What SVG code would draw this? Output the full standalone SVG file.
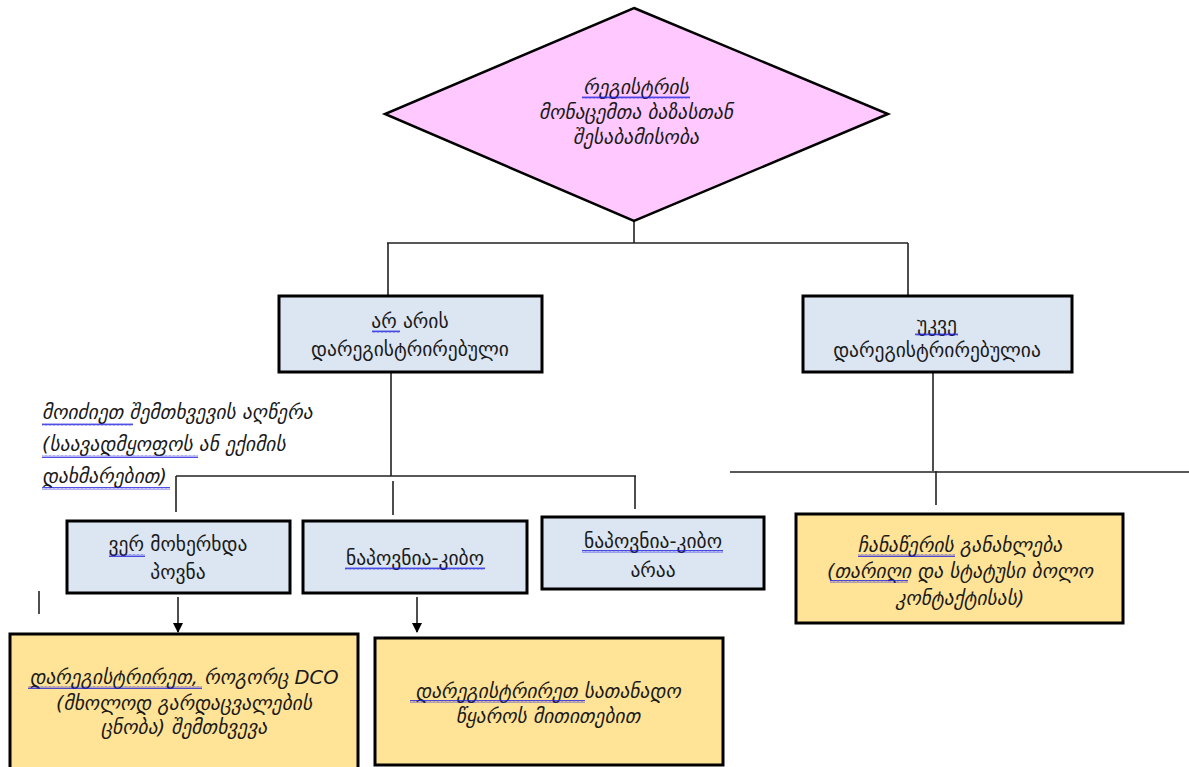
<svg xmlns="http://www.w3.org/2000/svg" width="1189" height="767" viewBox="0 0 1189 767">
<defs>
<style>
.t{font-family:"DejaVu Sans",sans-serif;font-size:19.5px;fill:#1a1a1a;text-anchor:middle}
.i{font-style:italic}
.a{text-anchor:start}
.pink{fill:#ffc8ff;stroke:#000;stroke-width:2.5}
.blue{fill:#dce6f2;stroke:#000;stroke-width:3}
.yel{fill:#ffe396;stroke:#000;stroke-width:3}
.c{fill:none;stroke:#222;stroke-width:1.6}
.w{fill:url(#wavy)}
</style>
<pattern id="wavy" x="0" y="0" width="4" height="3" patternUnits="userSpaceOnUse">
<path d="M0 2.5 L1 0.5 L2 2.5 L3 0.5 L4 2.5" fill="none" stroke="#2222dd" stroke-width="0.8"/>
</pattern>
<marker id="arr" viewBox="0 0 10 10" refX="9" refY="5" markerWidth="10" markerHeight="10" markerUnits="userSpaceOnUse" orient="auto">
<path d="M0 0 L10 5 L0 10 Z" fill="#000"/>
</marker>
</defs>
<g id="connectors">
<path class="c" d="M634 221 V243 M387 243 H908 M388 243 V296 M908 243 V296"/>
<path class="c" d="M391 372 V476 M176 476 H636 M176 476 V512 M393 481 V515 M635 476 V509"/>
<path class="c" d="M933 372 V471 M730 472 H1189 M936 471 V505"/>
<path class="c" d="M39 591 V614"/>
<path class="c" d="M178 597 V632" marker-end="url(#arr)"/>
<path class="c" d="M417 597 V632" marker-end="url(#arr)"/>
</g>
<g id="decision">
<polygon class="pink" points="634,8 888,114 634,221 385,114"/>
<text class="t i" x="636" y="94">რეგისტრის</text>
<text class="t i" x="636" y="119">მონაცემთა ბაზასთან</text>
<text class="t i" x="636" y="144">შესაბამისობა</text>
<rect class="w" x="582" y="96" width="108" height="3"/>
</g>
<g id="not-registered">
<rect class="blue" x="279" y="296" width="263" height="76"/>
<text class="t" x="410" y="328">არ არის</text>
<text class="t" x="410" y="356">დარეგისტრირებული</text>
<rect class="w" x="372" y="330" width="28" height="3"/>
</g>
<g id="already-registered">
<rect class="blue" x="803" y="296" width="269" height="76"/>
<text class="t" x="937" y="331">უკვე</text>
<text class="t" x="937" y="357">დარეგისტრირებულია</text>
<rect class="w" x="915" y="333" width="43" height="3"/>
</g>
<g id="annotation">
<text class="t i a" x="42" y="419">მოიძიეთ შემთხვევის აღწერა</text>
<text class="t i a" x="42" y="451">(საავადმყოფოს ან ექიმის</text>
<text class="t i a" x="42" y="483">დახმარებით)</text>
<rect class="w" x="42" y="423" width="91" height="3"/>
<rect class="w" x="42" y="455" width="156" height="3"/>
<rect class="w" x="42" y="487" width="128" height="3"/>
</g>
<g id="not-found">
<rect class="blue" x="67" y="521" width="223" height="72"/>
<text class="t" x="178" y="551">ვერ მოხერხდა</text>
<text class="t" x="178" y="579">პოვნა</text>
<rect class="w" x="109" y="554" width="36" height="3"/>
</g>
<g id="found-cancer">
<rect class="blue" x="303" y="521" width="224" height="72"/>
<text class="t" x="415" y="565">ნაპოვნია-კიბო</text>
<rect class="w" x="345" y="567" width="140" height="3"/>
</g>
<g id="found-not-cancer">
<rect class="blue" x="542" y="517" width="222" height="72"/>
<text class="t" x="653" y="548">ნაპოვნია-კიბო</text>
<text class="t" x="653" y="577">არაა</text>
<rect class="w" x="582" y="550" width="141" height="3"/>
</g>
<g id="update-record">
<rect class="yel" x="796" y="514" width="327" height="109"/>
<text class="t i" x="960" y="552">ჩანაწერის განახლება</text>
<text class="t i" x="960" y="578">(თარიღი და სტატუსი ბოლო</text>
<text class="t i" x="960" y="605">კონტაქტისას)</text>
<rect class="w" x="858" y="554" width="97" height="3"/>
<rect class="w" x="830" y="580" width="78" height="3"/>
</g>
<g id="register-dco">
<rect class="yel" x="10" y="634" width="348" height="140"/>
<text class="t i" x="184" y="684">დარეგისტრირეთ, როგორც DCO</text>
<text class="t i" x="184" y="710">(მხოლოდ გარდაცვალების</text>
<text class="t i" x="184" y="734">ცნობა) შემთხვევა</text>
<rect class="w" x="28" y="686" width="174" height="3"/>
</g>
<g id="register-source">
<rect class="yel" x="375" y="638" width="348" height="127"/>
<text class="t i" x="548" y="698">დარეგისტრირეთ სათანადო</text>
<text class="t i" x="548" y="723">წყაროს მითითებით</text>
<rect class="w" x="410" y="700" width="175" height="3"/>
</g>
</svg>
